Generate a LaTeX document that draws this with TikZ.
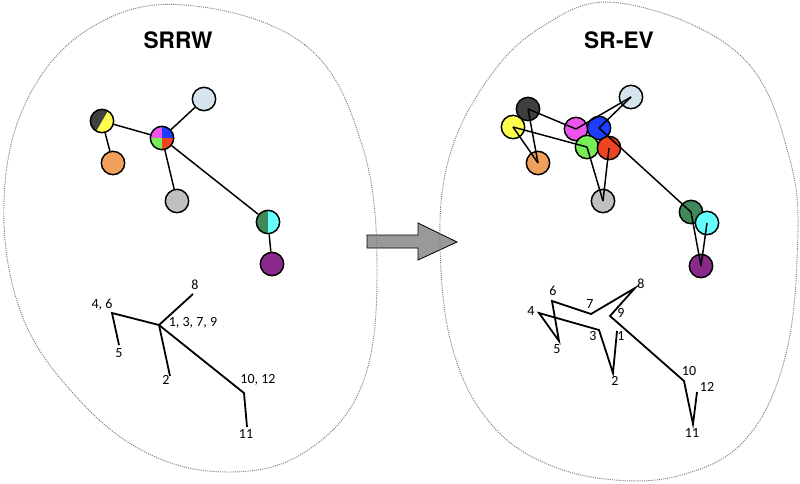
\documentclass[tikz,border=0pt]{standalone}
\usepackage{fontspec}
\setmainfont{Carlito}
\newfontfamily\headfont{TeX Gyre Heros}
\usetikzlibrary{arrows}
\definecolor{dkgray}{HTML}{404040}
\definecolor{ylw}{HTML}{FFFF4D}
\definecolor{orng}{HTML}{F0A05A}
\definecolor{mgnt}{HTML}{EE55EE}
\definecolor{blu}{HTML}{1F3DFF}
\definecolor{grn}{HTML}{77EE55}
\definecolor{rd}{HTML}{EE4422}
\definecolor{ltblue}{HTML}{D5E5EE}
\definecolor{ltgray}{HTML}{C0C0C0}
\definecolor{dkgreen}{HTML}{3F8A5A}
\definecolor{cyn}{HTML}{66FFFF}
\definecolor{prpl}{HTML}{8A2A8A}
\definecolor{arrowgray}{HTML}{999999}

\tikzset{
  vtx/.style={circle, draw, line width=1.1pt, minimum size=17.5pt, inner sep=0pt},
  link/.style={line width=1.1pt},
  walk/.style={line width=1.35pt},
  lab/.style={font=\fontsize{10.5}{12}\selectfont, inner sep=0pt},
  ttl/.style={font=\headfont\bfseries\fontsize{17}{19}\selectfont, inner sep=0pt},
  blob/.style={gray, line width=0.7pt, dash pattern=on 0.8pt off 0.8pt}
}

\begin{document}
\begin{tikzpicture}[x=0.75pt,y=-0.75pt]
\useasboundingbox (0,0) rectangle (800,483);
\draw[fill=arrowgray, line width=0.6pt] (367,235) -- (418,235) -- (418,223) -- (457,242)
  -- (418,260) -- (418,248) -- (367,248) -- cycle;
\draw[blob] plot[smooth cycle, tension=0.65] coordinates {(185,5) (305,45) (362,145) (377,270)
  (362,385) (305,452) (228,472) (145,452) (72,392) (20,310) (4,200) (28,98) (92,27)};
\draw[blob] plot[smooth cycle, tension=0.65] coordinates {(620,3) (740,55) (790,160) (797,260)
  (783,365) (745,440) (685,474) (615,480) (545,463) (492,425) (456,360) (441,270) (446,170)
  (482,88) (540,28)};

\node[ttl] (srrw) at (178,40) {SRRW};
\node[ttl] (srev) at (619,40) {SR-EV};

\node[vtx, fill=ylw, path picture={\fill[dkgray] (path picture bounding box.60)
  -- (path picture bounding box.240) -- (path picture bounding box.south west)
  -- (path picture bounding box.north west) -- cycle;}] (l46) at (102,121) {};
\node[vtx, fill=orng] (l5) at (113,163) {};
\node[vtx, path picture={
  \fill[mgnt] (path picture bounding box.center) rectangle (path picture bounding box.north west);
  \fill[blu] (path picture bounding box.center) rectangle (path picture bounding box.north east);
  \fill[grn] (path picture bounding box.center) rectangle (path picture bounding box.south west);
  \fill[rd] (path picture bounding box.center) rectangle (path picture bounding box.south east);}]
  (l1379) at (162,138) {};
\node[vtx, fill=ltblue] (l8) at (204,99) {};
\node[vtx, fill=ltgray] (l2) at (177,201) {};
\node[vtx, fill=cyn, path picture={\fill[dkgreen] (path picture bounding box.north west)
  rectangle (path picture bounding box.south);}] (l1012) at (268,222) {};
\node[vtx, fill=prpl] (l11) at (272,264) {};
\draw[link] (l46) -- (l5);
\draw[link] (l46) -- (l1379);
\draw[link] (l1379) -- (l8);
\draw[link] (l1379) -- (l2);
\draw[link] (l1379) -- (l1012);
\draw[link] (l1012) -- (l11);

\node[vtx, fill=dkgray] (r6) at (528,109) {};
\node[vtx, fill=ylw] (r4) at (513,127) {};
\node[vtx, fill=mgnt] (r7) at (576,129) {};
\node[vtx, fill=blu] (r9) at (599,128) {};
\node[vtx, fill=grn] (r3) at (587,147) {};
\node[vtx, fill=rd] (r1) at (609,148) {};
\node[vtx, fill=dkgreen] (r10) at (691,212) {};
\node[vtx, fill=cyn] (r12) at (707,223) {};
\node[vtx, fill=orng] (r5) at (538,163) {};
\node[vtx, fill=ltblue] (r8) at (631,97) {};
\node[vtx, fill=ltgray] (r2) at (603,201) {};
\node[vtx, fill=prpl] (r11) at (701,266) {};
\draw[link] (r1.center) -- (r2.center);
\draw[link] (r2.center) -- (r3.center);
\draw[link] (r3.center) -- (r4.center);
\draw[link] (r4.center) -- (r5.center);
\draw[link] (r5.center) -- (r6.center);
\draw[link] (r6.center) -- (r7.center);
\draw[link] (r7.center) -- (r8.center);
\draw[link] (r8.center) -- (r9.center);
\draw[link] (r9.center) -- (r10.center);
\draw[link] (r10.center) -- (r11.center);
\draw[link] (r11.center) -- (r12.center);

\coordinate (a46) at (112,313);
\coordinate (a5) at (119,345);
\coordinate (a1379) at (159,325);
\coordinate (a8) at (193,294);
\coordinate (a2) at (170,376);
\coordinate (a1012) at (244,393);
\coordinate (a11) at (247,427);
\draw[walk] (a5) -- (a46) -- (a1379) -- (a8);
\draw[walk] (a1379) -- (a2);
\draw[walk] (a1379) -- (a1012) -- (a11);
\node[lab] (ta46) at (102,305) {4, 6};
\node[lab] (ta5) at (119,353) {5};
\node[lab] (ta1379) at (193,323) {1, 3, 7, 9};
\node[lab] (ta8) at (195,285) {8};
\node[lab] (ta2) at (166,380) {2};
\node[lab] (ta1012) at (258,380) {10, 12};
\node[lab] (ta11) at (246,434) {11};

\coordinate (b1) at (617,331);
\coordinate (b2) at (613,373);
\coordinate (b3) at (599,330);
\coordinate (b4) at (539,313);
\coordinate (b5) at (559,341);
\coordinate (b6) at (552,301);
\coordinate (b7) at (591,314);
\coordinate (b8) at (635,288);
\coordinate (b9) at (610,316);
\coordinate (b10) at (684,381);
\coordinate (b11) at (693,424);
\coordinate (b12) at (697,392);
\draw[walk] (b1) -- (b2) -- (b3) -- (b4) -- (b5) -- (b6) -- (b7) -- (b8) -- (b9) -- (b10)
  -- (b11) -- (b12);
\node[lab] (tb1) at (621,336) {1};
\node[lab] (tb2) at (615,381) {2};
\node[lab] (tb3) at (593,336) {3};
\node[lab] (tb4) at (531,311) {4};
\node[lab] (tb5) at (557,349) {5};
\node[lab] (tb6) at (553,291) {6};
\node[lab] (tb7) at (590,304) {7};
\node[lab] (tb8) at (641,284) {8};
\node[lab] (tb9) at (621,313) {9};
\node[lab] (tb10) at (689,371) {10};
\node[lab] (tb11) at (692,433) {11};
\node[lab] (tb12) at (707,387) {12};
\end{tikzpicture}
\end{document}
